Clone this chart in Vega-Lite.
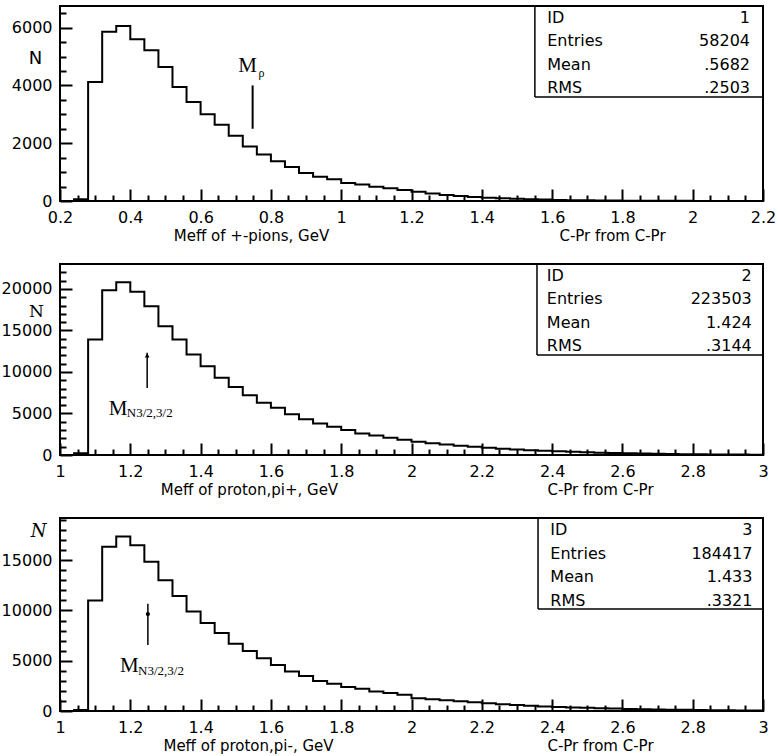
{
  "$schema": "https://vega.github.io/schema/vega-lite/v6.json",
  "padding": {"left": 0, "top": 4, "right": 0, "bottom": 0},
  "bounds": "flush",
  "spacing": 63,
  "config": {
    "view": {"stroke": "black", "strokeWidth": 2},
    "font": "DejaVu Sans",
    "axis": {"grid": false, "domain": false, "ticks": true, "zindex": 1, "labelFont": "DejaVu Sans", "labelFontSize": 16, "labelColor": "black", "tickColor": "#000000", "tickOpacity": 1, "tickWidth": 2, "titleFont": "DejaVu Sans", "titleFontSize": 15, "titleFontWeight": "normal", "titleColor": "black", "labelOverlap": false, "labelFlush": false}
  },
  "datasets": {
    "h1": [
      {"x": 0.20, "n": 0}, {"x": 0.24, "n": 60}, {"x": 0.28, "n": 4120}, {"x": 0.32, "n": 5860}, {"x": 0.36, "n": 6060},
      {"x": 0.40, "n": 5600}, {"x": 0.44, "n": 5220}, {"x": 0.48, "n": 4640}, {"x": 0.52, "n": 3950}, {"x": 0.56, "n": 3430},
      {"x": 0.60, "n": 3000}, {"x": 0.64, "n": 2640}, {"x": 0.68, "n": 2260}, {"x": 0.72, "n": 1890}, {"x": 0.76, "n": 1610},
      {"x": 0.80, "n": 1380}, {"x": 0.84, "n": 1180}, {"x": 0.88, "n": 970}, {"x": 0.92, "n": 840}, {"x": 0.96, "n": 750},
      {"x": 1.00, "n": 620}, {"x": 1.04, "n": 570}, {"x": 1.08, "n": 490}, {"x": 1.12, "n": 440}, {"x": 1.16, "n": 380},
      {"x": 1.20, "n": 320}, {"x": 1.24, "n": 260}, {"x": 1.28, "n": 210}, {"x": 1.32, "n": 170}, {"x": 1.36, "n": 140},
      {"x": 1.40, "n": 115}, {"x": 1.44, "n": 92}, {"x": 1.48, "n": 75}, {"x": 1.52, "n": 60}, {"x": 1.56, "n": 48},
      {"x": 1.60, "n": 38}, {"x": 1.64, "n": 30}, {"x": 1.68, "n": 24}, {"x": 1.72, "n": 19}, {"x": 1.76, "n": 15},
      {"x": 1.80, "n": 12}, {"x": 1.84, "n": 9}, {"x": 1.88, "n": 7}, {"x": 1.92, "n": 6}, {"x": 1.96, "n": 5},
      {"x": 2.00, "n": 4}, {"x": 2.04, "n": 3}, {"x": 2.08, "n": 2}, {"x": 2.12, "n": 2}, {"x": 2.16, "n": 1},
      {"x": 2.20, "n": 0}
    ],
    "h2": [
      {"x": 1.00, "n": 0}, {"x": 1.04, "n": 200}, {"x": 1.08, "n": 13900}, {"x": 1.12, "n": 19850}, {"x": 1.16, "n": 20800},
      {"x": 1.20, "n": 19650}, {"x": 1.24, "n": 17900}, {"x": 1.28, "n": 15500}, {"x": 1.32, "n": 13900}, {"x": 1.36, "n": 12100},
      {"x": 1.40, "n": 10700}, {"x": 1.44, "n": 9300}, {"x": 1.48, "n": 8200}, {"x": 1.52, "n": 7200}, {"x": 1.56, "n": 6300},
      {"x": 1.60, "n": 5700}, {"x": 1.64, "n": 4900}, {"x": 1.68, "n": 4300}, {"x": 1.72, "n": 3800}, {"x": 1.76, "n": 3400},
      {"x": 1.80, "n": 3000}, {"x": 1.84, "n": 2600}, {"x": 1.88, "n": 2350}, {"x": 1.92, "n": 2080}, {"x": 1.96, "n": 1850},
      {"x": 2.00, "n": 1600}, {"x": 2.04, "n": 1400}, {"x": 2.08, "n": 1250}, {"x": 2.12, "n": 1120}, {"x": 2.16, "n": 1000},
      {"x": 2.20, "n": 880}, {"x": 2.24, "n": 760}, {"x": 2.28, "n": 660}, {"x": 2.32, "n": 580}, {"x": 2.36, "n": 510},
      {"x": 2.40, "n": 440}, {"x": 2.44, "n": 380}, {"x": 2.48, "n": 330}, {"x": 2.52, "n": 280}, {"x": 2.56, "n": 240},
      {"x": 2.60, "n": 205}, {"x": 2.64, "n": 175}, {"x": 2.68, "n": 150}, {"x": 2.72, "n": 125}, {"x": 2.76, "n": 105},
      {"x": 2.80, "n": 90}, {"x": 2.84, "n": 75}, {"x": 2.88, "n": 62}, {"x": 2.92, "n": 52}, {"x": 2.96, "n": 44},
      {"x": 3.00, "n": 0}
    ],
    "h3": [
      {"x": 1.00, "n": 0}, {"x": 1.04, "n": 100}, {"x": 1.08, "n": 11000}, {"x": 1.12, "n": 16350}, {"x": 1.16, "n": 17350},
      {"x": 1.20, "n": 16500}, {"x": 1.24, "n": 14850}, {"x": 1.28, "n": 13000}, {"x": 1.32, "n": 11450}, {"x": 1.36, "n": 9900},
      {"x": 1.40, "n": 8750}, {"x": 1.44, "n": 7750}, {"x": 1.48, "n": 6700}, {"x": 1.52, "n": 5970}, {"x": 1.56, "n": 5250},
      {"x": 1.60, "n": 4580}, {"x": 1.64, "n": 3930}, {"x": 1.68, "n": 3480}, {"x": 1.72, "n": 2990}, {"x": 1.76, "n": 2720},
      {"x": 1.80, "n": 2400}, {"x": 1.84, "n": 2220}, {"x": 1.88, "n": 1930}, {"x": 1.92, "n": 1800}, {"x": 1.96, "n": 1620},
      {"x": 2.00, "n": 1280}, {"x": 2.04, "n": 1160}, {"x": 2.08, "n": 1060}, {"x": 2.12, "n": 960}, {"x": 2.16, "n": 860},
      {"x": 2.20, "n": 760}, {"x": 2.24, "n": 670}, {"x": 2.28, "n": 590}, {"x": 2.32, "n": 520}, {"x": 2.36, "n": 460},
      {"x": 2.40, "n": 400}, {"x": 2.44, "n": 360}, {"x": 2.48, "n": 320}, {"x": 2.52, "n": 280}, {"x": 2.56, "n": 245},
      {"x": 2.60, "n": 210}, {"x": 2.64, "n": 180}, {"x": 2.68, "n": 155}, {"x": 2.72, "n": 135}, {"x": 2.76, "n": 115},
      {"x": 2.80, "n": 100}, {"x": 2.84, "n": 85}, {"x": 2.88, "n": 72}, {"x": 2.92, "n": 62}, {"x": 2.96, "n": 52},
      {"x": 3.00, "n": 0}
    ]
  },
  "vconcat": [
    {
      "width": 703, "height": 195,
      "resolve": {"axis": {"x": "independent", "y": "independent"}},
      "layer": [
        {
          "data": {"name": "h1"},
          "mark": {"type": "line", "interpolate": "step-after", "color": "black", "strokeWidth": 2},
          "encoding": {
            "x": {"field": "x", "type": "quantitative", "scale": {"domain": [0.2, 2.2], "nice": false, "zero": false},
              "axis": {"orient": "bottom", "offset": -12, "values": [0.2, 0.4, 0.6, 0.8, 1, 1.2, 1.4, 1.6, 1.8, 2, 2.2], "format": "~g", "tickSize": 12, "labelPadding": 8,
                "title": "Meff of +-pions, GeV", "titleX": 191, "titleY": 46, "titleAlign": "center", "titleBaseline": "middle"}},
            "y": {"field": "n", "type": "quantitative", "scale": {"domain": [0, 6750], "nice": false},
              "axis": {"orient": "left", "offset": -12, "values": [0, 2000, 4000, 6000], "format": "d", "tickSize": 12, "labelPadding": 8,
                "title": "N", "titleAngle": 0, "titleX": -37, "titleY": 52, "titleFont": "DejaVu Sans", "titleFontSize": 18, "titleAlign": "center", "titleBaseline": "middle"}}
          }
        },
        {
          "data": {"name": "h1"},
          "mark": {"type": "line", "opacity": 0},
          "encoding": {
            "x": {"field": "x", "type": "quantitative",
              "axis": {"orient": "bottom", "offset": -6, "values": [0.25, 0.3, 0.35, 0.45, 0.5, 0.55, 0.65, 0.7, 0.75, 0.85, 0.9, 0.95, 1.05, 1.1, 1.15, 1.25, 1.3, 1.35, 1.45, 1.5, 1.55, 1.65, 1.7, 1.75, 1.85, 1.9, 1.95, 2.05, 2.1, 2.15],
                "tickSize": 6, "labels": false, "title": "C-Pr from C-Pr", "titleX": 552, "titleY": 40, "titleAlign": "center", "titleBaseline": "middle"}},
            "y": {"field": "n", "type": "quantitative",
              "axis": {"orient": "left", "offset": -6, "values": [500, 1000, 1500, 2500, 3000, 3500, 4500, 5000, 5500, 6500], "tickSize": 6, "labels": false, "title": null}}
          }
        },
        {
          "data": {"values": [{}]},
          "mark": {"type": "rule", "color": "black", "strokeWidth": 2},
          "encoding": {"x": {"datum": 0.748, "type": "quantitative", "axis": null}, "y": {"datum": 4000, "type": "quantitative", "axis": null}, "y2": {"datum": 2500}}
        },
        {
          "data": {"values": [{}]},
          "mark": {"type": "text", "text": "M", "font": "Liberation Serif", "fontSize": 21, "align": "center", "baseline": "middle", "color": "black"},
          "encoding": {"x": {"datum": 0.734, "type": "quantitative", "axis": null}, "y": {"datum": 4683, "type": "quantitative", "axis": null}}
        },
        {
          "data": {"values": [{}]},
          "mark": {"type": "text", "text": "ρ", "font": "Liberation Serif", "fontSize": 12, "align": "center", "baseline": "middle", "color": "black"},
          "encoding": {"x": {"datum": 0.773, "type": "quantitative", "axis": null}, "y": {"datum": 4420, "type": "quantitative", "axis": null}}
        },
        {
          "data": {"values": [{}]},
          "mark": {"type": "rule", "color": "black", "strokeWidth": 1.5},
          "encoding": {"x": {"datum": 1.551, "type": "quantitative", "axis": null}, "y": {"datum": 3600, "type": "quantitative", "axis": null}, "y2": {"datum": 6750}}
        },
        {
          "data": {"values": [{}]},
          "mark": {"type": "rule", "color": "black", "strokeWidth": 1.5},
          "encoding": {"y": {"datum": 3600, "type": "quantitative", "axis": null}, "x": {"datum": 1.551, "type": "quantitative", "axis": null}, "x2": {"datum": 2.2}}
        },
        {
          "data": {"values": [{}]},
          "mark": {"type": "text", "text": ["ID", "Entries", "Mean", "RMS"], "align": "left", "baseline": "middle", "lineHeight": 23.5, "fontSize": 16, "color": "black"},
          "encoding": {"x": {"datum": 1.586, "type": "quantitative", "axis": null}, "y": {"datum": 6335, "type": "quantitative", "axis": null}}
        },
        {
          "data": {"values": [{}]},
          "mark": {"type": "text", "text": ["1", "58204", ".5682", ".2503"], "align": "right", "baseline": "middle", "lineHeight": 23.5, "fontSize": 16, "color": "black"},
          "encoding": {"x": {"datum": 2.163, "type": "quantitative", "axis": null}, "y": {"datum": 6335, "type": "quantitative", "axis": null}}
        }
      ]
    },
    {
      "width": 703, "height": 191,
      "resolve": {"axis": {"x": "independent", "y": "independent"}},
      "layer": [
        {
          "data": {"name": "h2"},
          "mark": {"type": "line", "interpolate": "step-after", "color": "black", "strokeWidth": 2},
          "encoding": {
            "x": {"field": "x", "type": "quantitative", "scale": {"domain": [1, 3], "nice": false, "zero": false},
              "axis": {"orient": "bottom", "offset": -12, "values": [1, 1.2, 1.4, 1.6, 1.8, 2, 2.2, 2.4, 2.6, 2.8, 3], "format": "~g", "tickSize": 12, "labelPadding": 8,
                "title": "Meff of proton,pi+, GeV", "titleX": 189, "titleY": 46, "titleAlign": "center", "titleBaseline": "middle"}},
            "y": {"field": "n", "type": "quantitative", "scale": {"domain": [0, 23000], "nice": false},
              "axis": {"orient": "left", "offset": -12, "values": [0, 5000, 10000, 15000, 20000], "format": "d", "tickSize": 12, "labelPadding": 8,
                "title": "N", "titleAngle": 0, "titleX": -36, "titleY": 47, "titleFont": "DejaVu Serif", "titleFontSize": 17, "titleAlign": "center", "titleBaseline": "middle"}}
          }
        },
        {
          "data": {"name": "h2"},
          "mark": {"type": "line", "opacity": 0},
          "encoding": {
            "x": {"field": "x", "type": "quantitative",
              "axis": {"orient": "bottom", "offset": -6, "values": [1.05, 1.1, 1.15, 1.25, 1.3, 1.35, 1.45, 1.5, 1.55, 1.65, 1.7, 1.75, 1.85, 1.9, 1.95, 2.05, 2.1, 2.15, 2.25, 2.3, 2.35, 2.45, 2.5, 2.55, 2.65, 2.7, 2.75, 2.85, 2.9, 2.95],
                "tickSize": 6, "labels": false, "title": "C-Pr from C-Pr", "titleX": 540, "titleY": 40, "titleAlign": "center", "titleBaseline": "middle"}},
            "y": {"field": "n", "type": "quantitative",
              "axis": {"orient": "left", "offset": -6, "values": [1000, 2000, 3000, 4000, 6000, 7000, 8000, 9000, 11000, 12000, 13000, 14000, 16000, 17000, 18000, 19000, 21000, 22000], "tickSize": 6, "labels": false, "title": null}}
          }
        },
        {
          "data": {"values": [{}]},
          "mark": {"type": "rule", "color": "black", "strokeWidth": 1.5},
          "encoding": {"x": {"datum": 1.248, "type": "quantitative", "axis": null}, "y": {"datum": 12300, "type": "quantitative", "axis": null}, "y2": {"datum": 8070}}
        },
        {
          "data": {"values": [{}]},
          "mark": {"type": "point", "shape": "triangle-up", "filled": true, "size": 22, "color": "black", "opacity": 1},
          "encoding": {"x": {"datum": 1.248, "type": "quantitative", "axis": null}, "y": {"datum": 12000, "type": "quantitative", "axis": null}}
        },
        {
          "data": {"values": [{}]},
          "mark": {"type": "text", "text": "M", "font": "Liberation Serif", "fontSize": 21, "align": "center", "baseline": "middle", "color": "black"},
          "encoding": {"x": {"datum": 1.165, "type": "quantitative", "axis": null}, "y": {"datum": 5540, "type": "quantitative", "axis": null}}
        },
        {
          "data": {"values": [{}]},
          "mark": {"type": "text", "text": "N3/2,3/2", "font": "Liberation Serif", "fontSize": 13, "align": "left", "baseline": "middle", "color": "black"},
          "encoding": {"x": {"datum": 1.19, "type": "quantitative", "axis": null}, "y": {"datum": 5000, "type": "quantitative", "axis": null}}
        },
        {
          "data": {"values": [{}]},
          "mark": {"type": "rule", "color": "black", "strokeWidth": 1.5},
          "encoding": {"x": {"datum": 2.357, "type": "quantitative", "axis": null}, "y": {"datum": 12042, "type": "quantitative", "axis": null}, "y2": {"datum": 23000}}
        },
        {
          "data": {"values": [{}]},
          "mark": {"type": "rule", "color": "black", "strokeWidth": 1.5},
          "encoding": {"y": {"datum": 12042, "type": "quantitative", "axis": null}, "x": {"datum": 2.357, "type": "quantitative", "axis": null}, "x2": {"datum": 3}}
        },
        {
          "data": {"values": [{}]},
          "mark": {"type": "text", "text": ["ID", "Entries", "Mean", "RMS"], "align": "left", "baseline": "middle", "lineHeight": 23.5, "fontSize": 16, "color": "black"},
          "encoding": {"x": {"datum": 2.385, "type": "quantitative", "axis": null}, "y": {"datum": 21555, "type": "quantitative", "axis": null}}
        },
        {
          "data": {"values": [{}]},
          "mark": {"type": "text", "text": ["2", "223503", "1.424", ".3144"], "align": "right", "baseline": "middle", "lineHeight": 23.5, "fontSize": 16, "color": "black"},
          "encoding": {"x": {"datum": 2.968, "type": "quantitative", "axis": null}, "y": {"datum": 21555, "type": "quantitative", "axis": null}}
        }
      ]
    },
    {
      "width": 703, "height": 193,
      "resolve": {"axis": {"x": "independent", "y": "independent"}},
      "layer": [
        {
          "data": {"name": "h3"},
          "mark": {"type": "line", "interpolate": "step-after", "color": "black", "strokeWidth": 2},
          "encoding": {
            "x": {"field": "x", "type": "quantitative", "scale": {"domain": [1, 3], "nice": false, "zero": false},
              "axis": {"orient": "bottom", "offset": -12, "values": [1, 1.2, 1.4, 1.6, 1.8, 2, 2.2, 2.4, 2.6, 2.8, 3], "format": "~g", "tickSize": 12, "labelPadding": 8,
                "title": "Meff of proton,pi-, GeV", "titleX": 188, "titleY": 46, "titleAlign": "center", "titleBaseline": "middle"}},
            "y": {"field": "n", "type": "quantitative", "scale": {"domain": [0, 19200], "nice": false},
              "axis": {"orient": "left", "offset": -12, "values": [0, 5000, 10000, 15000], "format": "d", "tickSize": 12, "labelPadding": 8,
                "title": "N", "titleAngle": 0, "titleX": -34, "titleY": 13, "titleFont": "DejaVu Serif", "titleFontStyle": "italic", "titleFontSize": 18, "titleAlign": "center", "titleBaseline": "middle"}}
          }
        },
        {
          "data": {"name": "h3"},
          "mark": {"type": "line", "opacity": 0},
          "encoding": {
            "x": {"field": "x", "type": "quantitative",
              "axis": {"orient": "bottom", "offset": -6, "values": [1.05, 1.1, 1.15, 1.25, 1.3, 1.35, 1.45, 1.5, 1.55, 1.65, 1.7, 1.75, 1.85, 1.9, 1.95, 2.05, 2.1, 2.15, 2.25, 2.3, 2.35, 2.45, 2.5, 2.55, 2.65, 2.7, 2.75, 2.85, 2.9, 2.95],
                "tickSize": 6, "labels": false, "title": "C-Pr from C-Pr", "titleX": 540, "titleY": 40, "titleAlign": "center", "titleBaseline": "middle"}},
            "y": {"field": "n", "type": "quantitative",
              "axis": {"orient": "left", "offset": -6, "values": [1000, 2000, 3000, 4000, 6000, 7000, 8000, 9000, 11000, 12000, 13000, 14000, 16000, 17000, 18000, 19000], "tickSize": 6, "labels": false, "title": null}}
          }
        },
        {
          "data": {"values": [{}]},
          "mark": {"type": "rule", "color": "black", "strokeWidth": 1.5},
          "encoding": {"x": {"datum": 1.25, "type": "quantitative", "axis": null}, "y": {"datum": 10660, "type": "quantitative", "axis": null}, "y2": {"datum": 6560}}
        },
        {
          "data": {"values": [{}]},
          "mark": {"type": "point", "shape": "circle", "filled": true, "size": 18, "color": "black", "opacity": 1},
          "encoding": {"x": {"datum": 1.25, "type": "quantitative", "axis": null}, "y": {"datum": 9640, "type": "quantitative", "axis": null}}
        },
        {
          "data": {"values": [{}]},
          "mark": {"type": "text", "text": "M", "font": "Liberation Serif", "fontSize": 21, "align": "center", "baseline": "middle", "color": "black"},
          "encoding": {"x": {"datum": 1.197, "type": "quantitative", "axis": null}, "y": {"datum": 4473, "type": "quantitative", "axis": null}}
        },
        {
          "data": {"values": [{}]},
          "mark": {"type": "text", "text": "N3/2,3/2", "font": "Liberation Serif", "fontSize": 13, "align": "left", "baseline": "middle", "color": "black"},
          "encoding": {"x": {"datum": 1.222, "type": "quantitative", "axis": null}, "y": {"datum": 4000, "type": "quantitative", "axis": null}}
        },
        {
          "data": {"values": [{}]},
          "mark": {"type": "rule", "color": "black", "strokeWidth": 1.5},
          "encoding": {"x": {"datum": 2.36, "type": "quantitative", "axis": null}, "y": {"datum": 10147, "type": "quantitative", "axis": null}, "y2": {"datum": 19200}}
        },
        {
          "data": {"values": [{}]},
          "mark": {"type": "rule", "color": "black", "strokeWidth": 1.5},
          "encoding": {"y": {"datum": 10147, "type": "quantitative", "axis": null}, "x": {"datum": 2.36, "type": "quantitative", "axis": null}, "x2": {"datum": 3}}
        },
        {
          "data": {"values": [{}]},
          "mark": {"type": "text", "text": ["ID", "Entries", "Mean", "RMS"], "align": "left", "baseline": "middle", "lineHeight": 23.5, "fontSize": 16, "color": "black"},
          "encoding": {"x": {"datum": 2.395, "type": "quantitative", "axis": null}, "y": {"datum": 18006, "type": "quantitative", "axis": null}}
        },
        {
          "data": {"values": [{}]},
          "mark": {"type": "text", "text": ["3", "184417", "1.433", ".3321"], "align": "right", "baseline": "middle", "lineHeight": 23.5, "fontSize": 16, "color": "black"},
          "encoding": {"x": {"datum": 2.97, "type": "quantitative", "axis": null}, "y": {"datum": 18006, "type": "quantitative", "axis": null}}
        }
      ]
    }
  ]
}
